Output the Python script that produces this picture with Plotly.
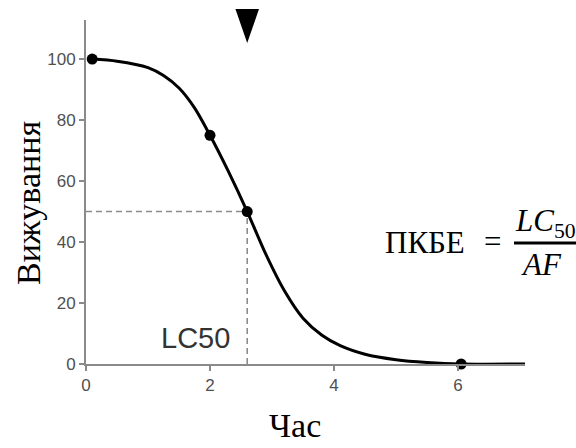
import plotly.graph_objects as go

# Survival curve
curve_x = [0.1, 0.5, 1.0, 1.25, 1.5, 1.75, 2.0, 2.3, 2.6, 2.9, 3.2, 3.5, 3.8, 4.1, 4.5, 5.0, 5.5, 6.05, 7.08]
curve_y = [100, 99.3, 97.2, 94.6, 90.5, 84, 75, 63, 50, 36, 24, 15, 9.5, 6, 3.2, 1.4, 0.5, 0, 0]

# Measured points
point_x = [0.1, 2.0, 2.6, 6.05]
point_y = [100, 75, 50, 0]

lc50_x = 2.6
lc50_y = 50

x_ticks = [0, 2, 4, 6]
y_ticks = [0, 20, 40, 60, 80, 100]

L, R, T, B = 86, 51, 20, 84
W, H = 576, 448
pw, ph = W - L - R, H - T - B


def px(xp):
    return (xp - L) / pw


def py(yp):
    return (H - B - yp) / ph


fig = go.Figure()

# dashed guide lines
fig.add_trace(go.Scatter(x=[0, lc50_x], y=[lc50_y, lc50_y], mode="lines",
                         line=dict(color="#8c8c8c", width=1.6, dash="6px,4px"),
                         hoverinfo="skip", showlegend=False))
fig.add_trace(go.Scatter(x=[lc50_x, lc50_x], y=[0, lc50_y], mode="lines",
                         line=dict(color="#8c8c8c", width=1.6, dash="6px,4px"),
                         hoverinfo="skip", showlegend=False))

# curve
fig.add_trace(go.Scatter(x=curve_x, y=curve_y, mode="lines",
                         line=dict(color="black", width=3, shape="spline", smoothing=0.8),
                         cliponaxis=False, showlegend=False))
# points
fig.add_trace(go.Scatter(x=point_x, y=point_y, mode="markers",
                         marker=dict(color="black", size=11),
                         cliponaxis=False, showlegend=False))

# triangle pointer above LC50
hw = 0.19
fig.add_shape(type="path", xref="x", yref="paper",
              path=f"M {lc50_x - hw},{py(9)} L {lc50_x + hw},{py(9)} L {lc50_x},{py(43)} Z",
              fillcolor="black", line=dict(width=0), layer="above")

# LC50 label
fig.add_annotation(x=1.76, y=8.5, xref="x", yref="y", text="LC50", showarrow=False,
                   xanchor="center", yanchor="middle",
                   font=dict(family="Liberation Sans, Arial", size=29, color="#333333"))

serif = "Liberation Serif, Times New Roman"

# axis titles
fig.add_annotation(x=px(28), y=py(203), xref="paper", yref="paper", text="Вижування",
                   textangle=-90, showarrow=False, xanchor="center", yanchor="middle",
                   font=dict(family=serif, size=34, color="black"))
fig.add_annotation(x=px(295), y=py(426), xref="paper", yref="paper", text="Час",
                   showarrow=False, xanchor="center", yanchor="middle",
                   font=dict(family=serif, size=34, color="black"))

# formula
formula = [("ПКБЕ", 425, 242), ("=", 492, 241), ("<i>LC</i><sub>50</sub>", 545, 223),
           ("<i>AF</i>", 541, 264)]
for txt, xp, yp in formula:
    fig.add_annotation(x=px(xp), y=py(yp), xref="paper", yref="paper", text=txt,
                       showarrow=False, xanchor="center", yanchor="middle",
                       font=dict(family=serif, size=31, color="black"))
fig.add_shape(type="line", xref="paper", yref="paper",
              x0=px(514), x1=px(578), y0=py(243), y1=py(243),
              line=dict(color="black", width=3))

axis_common = dict(showgrid=False, zeroline=False, showline=True, linecolor="#8a8a8a",
                   linewidth=2, ticks="outside", ticklen=5, tickwidth=1.5, tickcolor="#8a8a8a",
                   tickfont=dict(family="Liberation Sans, Arial", size=17, color="#505050"))

fig.update_layout(
    width=W, height=H,
    margin=dict(l=L, r=R, t=T, b=B),
    paper_bgcolor="white", plot_bgcolor="white",
    xaxis=dict(range=[0, 7.08], tickvals=x_ticks, **axis_common),
    yaxis=dict(range=[0, 112.8], tickvals=y_ticks, **axis_common),
    showlegend=False,
)

fig.write_html("out.html")
